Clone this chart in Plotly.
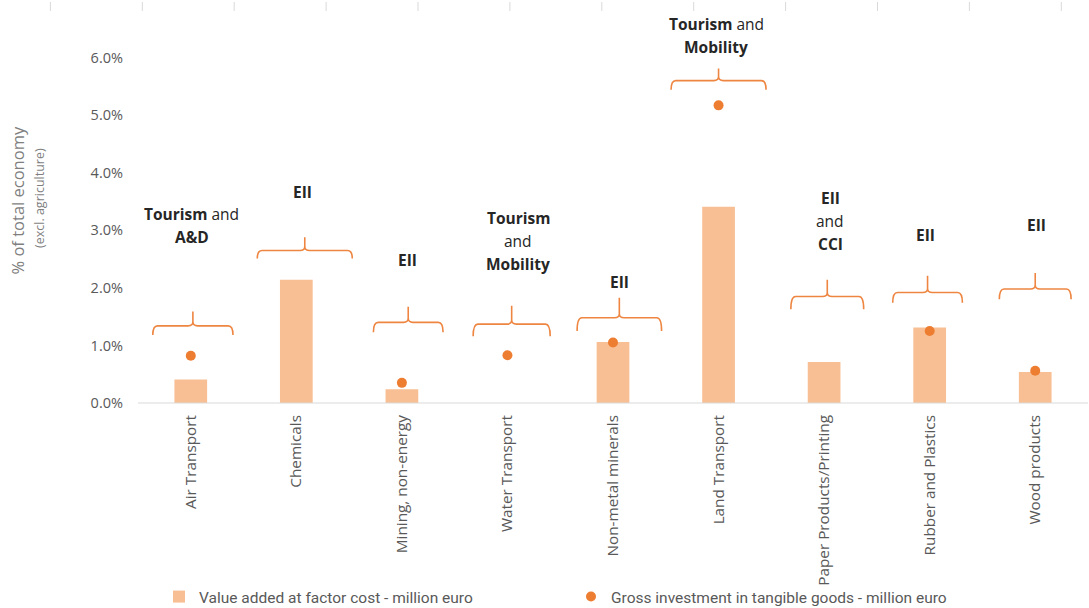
import plotly.graph_objects as go

# Sectors and their shares of the total economy (excl. agriculture), in %
sectors = ["Air Transport", "Chemicals", "Mining, non-energy", "Water Transport",
           "Non-metal minerals", "Land Transport", "Paper Products/Printing",
           "Rubber and Plastics", "Wood products"]
value_added_pct = [0.41, 2.14, 0.24, None, 1.06, 3.41, 0.71, 1.31, 0.54]
gross_investment_pct = [0.82, None, 0.35, 0.83, 1.05, 5.17, None, 1.25, 0.56]

# Industrial ecosystem each sector belongs to
ecosystem_labels = [
    "<b>Tourism</b> and<br><b>A&D</b>",
    "<b>EII</b>",
    "<b>EII</b>",
    "<b>Tourism</b><br>and<br><b>Mobility</b>",
    "<b>EII</b>",
    "<b>Tourism</b> and<br><b>Mobility</b>",
    "<b>EII</b><br>and<br><b>CCI</b>",
    "<b>EII</b>",
    "<b>EII</b>",
]

# Brace placement above each sector: centre offset, half width (category units),
# bar level, tip and end heights (in %), label centre offset and height (in %)
brace_offset = [0.02, 0.08, 0.06, 0.04, 0.06, 0.0, 0.03, -0.02, 0.0]
brace_half = [0.38, 0.45, 0.33, 0.365, 0.40, 0.45, 0.345, 0.33, 0.34]
brace_level = [1.34, 2.65, 1.40, 1.37, 1.48, 5.60, 1.85, 1.92, 1.98]
brace_tip = [1.59, 2.88, 1.67, 1.69, 1.83, 5.81, 2.14, 2.21, 2.26]
brace_end = [1.18, 2.51, 1.23, 1.16, 1.25, 5.44, 1.63, 1.74, 1.80]
label_x = [0.01, 0.06, 0.05, 0.10, 0.06, -0.02, 0.06, -0.04, 0.01]
label_y = [3.09, 3.67, 2.49, 2.82, 2.10, 6.39, 3.17, 2.92, 3.10]

BAR = "#F8BF94"
DOT = "#ED7D31"
BRACE = "#EE8642"
GREY = "#595959"
FONT = "Open Sans"

# plot area in pixels
L, R, T, B = 138, 1, 0, 205
W, H = 1089, 608
PW, PH = W - L - R, H - T - B


def px_x(px):
    return (px - L) / PW


def px_y(py):
    return (H - B - py) / PH


idx = list(range(len(sectors)))
fig = go.Figure()
fig.add_trace(go.Bar(
    x=idx, y=[None if v is None else v / 100 for v in value_added_pct],
    width=0.31, marker=dict(color=BAR, line=dict(width=0)),
    name="Value added at factor cost - million euro",
))
fig.add_trace(go.Scatter(
    x=idx, y=[None if v is None else v / 100 for v in gross_investment_pct],
    mode="markers", marker=dict(color=DOT, size=10),
    name="Gross investment in tangible goods - million euro",
))

shapes = []
annotations = []
rx = 0.045      # corner size in category units
ry = 0.0007     # corner size in y units
for i in idx:
    c = i + brace_offset[i]
    hw = brace_half[i]
    yh = brace_level[i] / 100
    yt = brace_tip[i] / 100
    ye = brace_end[i] / 100
    path = (
        f"M {c-hw},{ye} Q {c-hw},{yh} {c-hw+rx},{yh} L {c-rx},{yh} "
        f"Q {c},{yh} {c},{yh+ry} L {c},{yt} M {c},{yh+ry} "
        f"Q {c},{yh} {c+rx},{yh} L {c+hw-rx},{yh} Q {c+hw},{yh} {c+hw},{ye}"
    )
    shapes.append(dict(type="path", path=path, xref="x", yref="y",
                       line=dict(color=BRACE, width=1.6), layer="above"))

    lines = ecosystem_labels[i].split("<br>")
    n = len(lines)
    for k, line in enumerate(lines):
        annotations.append(dict(
            x=i + label_x[i], y=label_y[i] / 100, xref="x", yref="y",
            text=line, showarrow=False, xanchor="center", yanchor="middle",
            yshift=((n - 1) / 2 - k) * 23,
            font=dict(family=FONT, size=15.5, color="#262626"),
        ))

# Short grey marks along the top edge
step = 91.9
for k in range(12):
    xp = px_x(50.4 + k * step)
    shapes.append(dict(type="line", xref="paper", yref="paper",
                       x0=xp, x1=xp, y0=px_y(2), y1=px_y(11),
                       line=dict(color="#D9D9D9", width=1)))

# Category axis line running to the right edge
shapes.append(dict(type="line", xref="paper", yref="paper", x0=0, x1=1.0,
                   y0=0, y1=0, line=dict(color="#D9D9D9", width=1)))

# Y-axis title, two lines
annotations.append(dict(x=px_x(16.5), y=px_y(201), xref="paper", yref="paper",
                        text="% of total economy", showarrow=False, textangle=-90,
                        xanchor="center", yanchor="middle",
                        font=dict(family=FONT, size=16.5, color="#7F7F7F")))
annotations.append(dict(x=px_x(39), y=px_y(198), xref="paper", yref="paper",
                        text="(excl. agriculture)", showarrow=False, textangle=-90,
                        xanchor="center", yanchor="middle",
                        font=dict(family=FONT, size=12.5, color="#7F7F7F")))

fig.update_layout(
    width=W, height=H,
    margin=dict(l=L, r=R, t=T, b=B, pad=0),
    paper_bgcolor="white", plot_bgcolor="white",
    showlegend=True,
    legend=dict(orientation="h", x=px_x(159), xanchor="left",
                yref="container", y=(H - 597) / H, yanchor="middle",
                entrywidth=367, entrywidthmode="pixels",
                font=dict(family="Roboto", size=15.5, color=GREY),
                bgcolor="rgba(0,0,0,0)"),
    xaxis=dict(range=[-0.5, 8.5], tickmode="array", tickvals=idx, ticktext=sectors,
               tickangle=-90, showgrid=False, zeroline=False, showline=False,
               ticks="", ticklabelstandoff=8, automargin=False,
               tickfont=dict(family=FONT, size=15.3, color=GREY)),
    yaxis=dict(range=[0, 0.07], tickvals=[0, 0.01, 0.02, 0.03, 0.04, 0.05, 0.06],
               tickformat=".1%", showgrid=False, zeroline=False, showline=False,
               ticks="", ticklabelstandoff=14, automargin=False,
               tickfont=dict(family=FONT, size=14.5, color=GREY)),
    shapes=shapes, annotations=annotations,
)

fig.write_html("out.html")
